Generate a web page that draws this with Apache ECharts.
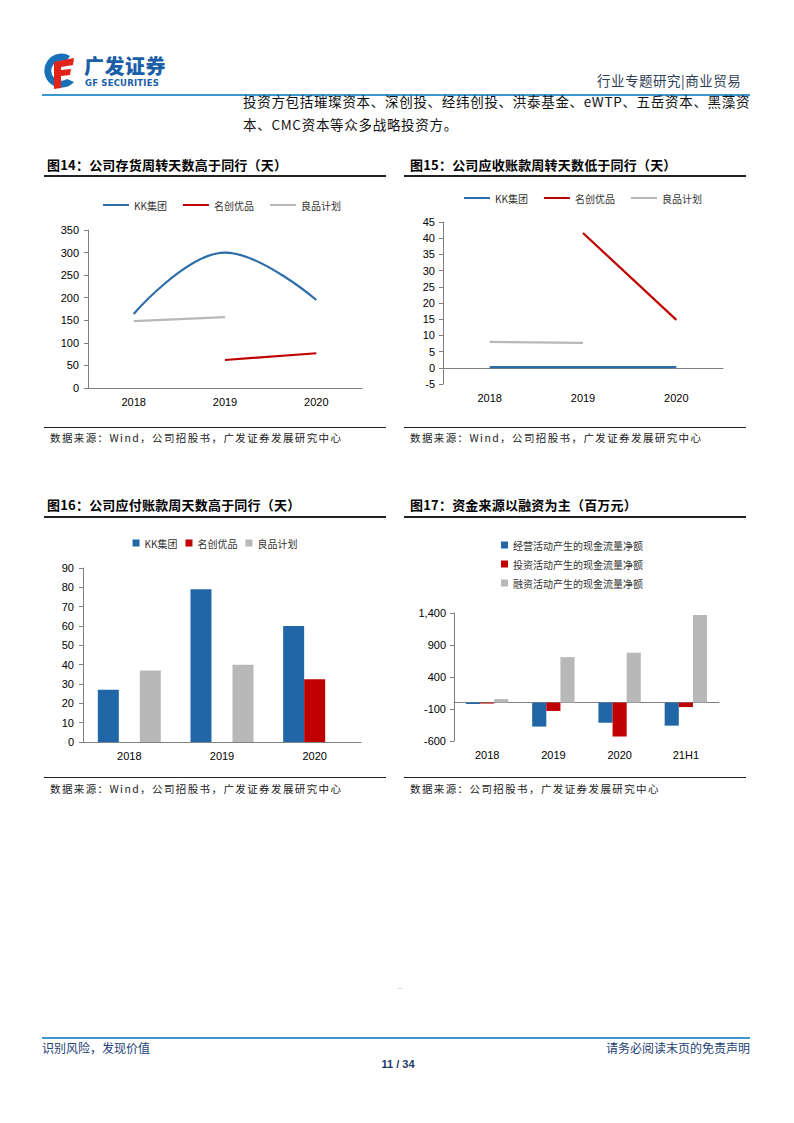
<!DOCTYPE html>
<html><head><meta charset="utf-8">
<script src="https://cdn.jsdelivr.net/npm/echarts@6/dist/echarts.min.js"></script>
<style>
html,body{margin:0;padding:0;background:#fff;}
body{width:794px;height:1123px;position:relative;overflow:hidden;font-family:"Noto Sans CJK SC","Noto Sans",sans-serif;}
.abs{position:absolute;white-space:nowrap;}
.title{font-size:13px;font-weight:bold;color:#000;letter-spacing:0.2px;line-height:16px;}
.rule{position:absolute;height:1.5px;background:#222;}
.src{font-size:10.5px;color:#222;letter-spacing:1.4px;}
.chart{position:absolute;}
</style></head>
<body>
<!-- header -->
<svg class="abs" style="left:40px;top:52px" width="42" height="40" viewBox="0 0 42 40">
  <path d="M30 4 A17 17 0 1 0 34 30 L27 27 A10 10 0 1 1 26 10 Z" fill="#1a6fb9"/>
  <path d="M14 10 L34 6 L33 13 L21 15 L21 18 L31 17 L30 23 L21 24 L21 36 L14 37 Z" fill="#e2231a"/>
</svg>
<div class="abs" style="left:84px;top:56px;font-size:20px;line-height:20px;height:20px;font-weight:900;color:#1a5ea8;letter-spacing:0.5px;">广发证券</div>
<div class="abs" style="left:85px;top:79px;font-size:8.5px;line-height:9px;height:9px;font-weight:bold;color:#1a5ea8;font-family:'DejaVu Sans';letter-spacing:0.2px;">GF SECURITIES</div>
<div class="abs" style="left:597px;top:70px;font-size:13.5px;color:#2f4058;letter-spacing:0.5px;">行业专题研究|商业贸易</div>
<div class="abs" style="left:42px;top:94px;width:708px;height:1.5px;background:#3b97cf;"></div>
<div class="abs" style="left:243px;top:91px;font-size:13.5px;color:#111;letter-spacing:0.7px;">投资方包括璀璨资本、深创投、经纬创投、洪泰基金、eWTP、五岳资本、黑藻资</div>
<div class="abs" style="left:243px;top:114px;font-size:13.5px;color:#111;letter-spacing:0.7px;">本、CMC资本等众多战略投资方。</div>

<!-- titles -->
<div class="abs title" style="left:47px;top:157px;">图14：公司存货周转天数高于同行（天）</div>
<div class="rule" style="left:44px;top:175px;width:342px;"></div>
<div class="abs title" style="left:410px;top:157px;">图15：公司应收账款周转天数低于同行（天）</div>
<div class="rule" style="left:404px;top:175px;width:342px;"></div>

<div id="c14" class="chart" style="left:44px;top:185px;width:342px;height:235px;"></div>
<div id="c15" class="chart" style="left:404px;top:185px;width:342px;height:235px;"></div>

<div class="rule" style="left:44px;top:427px;width:342px;height:1px;"></div>
<div class="abs src" style="left:50px;top:430px;">数据来源：Wind，公司招股书，广发证券发展研究中心</div>
<div class="rule" style="left:404px;top:427px;width:342px;height:1px;"></div>
<div class="abs src" style="left:410px;top:430px;">数据来源：Wind，公司招股书，广发证券发展研究中心</div>

<div class="abs title" style="left:47px;top:497px;">图16：公司应付账款周天数高于同行（天）</div>
<div class="rule" style="left:44px;top:516px;width:342px;"></div>
<div class="abs title" style="left:410px;top:497px;">图17：资金来源以融资为主（百万元）</div>
<div class="rule" style="left:404px;top:516px;width:342px;"></div>

<div id="c16" class="chart" style="left:44px;top:525px;width:342px;height:250px;"></div>
<div id="c17" class="chart" style="left:404px;top:525px;width:342px;height:250px;"></div>

<div class="rule" style="left:44px;top:777px;width:342px;height:1px;"></div>
<div class="abs src" style="left:50px;top:781px;">数据来源：Wind，公司招股书，广发证券发展研究中心</div>
<div class="rule" style="left:404px;top:777px;width:342px;height:1px;"></div>
<div class="abs src" style="left:410px;top:781px;">数据来源：公司招股书，广发证券发展研究中心</div>

<!-- footer -->
<div class="abs" style="left:398px;top:983px;font-size:6px;color:#999;">--</div>
<div class="abs" style="left:42px;top:1037px;width:708px;height:1.5px;background:#3b97cf;"></div>
<div class="abs" style="left:42px;top:1039px;font-size:12px;color:#1d4274;">识别风险，发现价值</div>
<div class="abs" style="right:44px;top:1039px;font-size:12px;color:#1d4274;">请务必阅读末页的免责声明</div>
<div class="abs" style="left:378px;top:1058px;width:40px;text-align:center;font-size:11px;font-weight:bold;color:#1d3a66;font-family:'Liberation Sans';">11 / 34</div>

<script>
// ---- data ----
const years3 = ['2018', '2019', '2020'];
const seriesNames = ['KK集团', '名创优品', '良品计划'];
// 图14 存货周转天数
const invKK = [164, 300, 195];
const invMinis = [null, 62, 77];
const invMuji = [148, 157, null];
// 图15 应收账款周转天数
const arKK = [0.2, 0.2, 0.2];
const arMinis = [null, 41.6, 14.8];
const arMuji = [8.0, 7.7, null];
// 图16 应付账款周转天数
const apKK = [27, 79, 60];
const apMinis = [null, null, 32.5];
const apMuji = [37, 40, null];
// 图17 现金流（百万元）
const cfCats = ['2018', '2019', '2020', '21H1'];
const cfNames = ['经营活动产生的现金流量净额', '投资活动产生的现金流量净额', '融资活动产生的现金流量净额'];
const cfOp = [-20, -375, -315, -360];
const cfInv = [-15, -130, -530, -70];
const cfFin = [55, 710, 780, 1370];

const BLUE = '#2167a8', RED = '#c00000', GRAY = '#b8b8b8';
const AX = '#808080';
const FONT = 'Liberation Sans';
const legendText = {fontSize: 10, color: '#333', fontFamily: 'Noto Sans CJK SC'};
const axLabel = {color: '#000', fontSize: 11, fontFamily: FONT};

function init(id){ return echarts.init(document.getElementById(id), null, {renderer: 'svg'}); }

// chart 14
init('c14').setOption({
  animation: false,
  legend: {top: 10, left: 54, itemWidth: 26, itemHeight: 2, itemGap: 16, textStyle: legendText, icon: 'rect'},
  grid: {left: 44, right: 24, top: 45, bottom: 32},
  xAxis: {type: 'category', data: years3, boundaryGap: true,
    axisLine: {lineStyle: {color: AX}}, axisTick: {length: 4, lineStyle: {color: AX}},
    axisLabel: Object.assign({margin: 8}, axLabel)},
  yAxis: {type: 'value', min: 0, max: 350, interval: 50, splitLine: {show: false},
    axisLine: {show: true, lineStyle: {color: AX}}, axisTick: {show: true, length: 4, lineStyle: {color: AX}},
    axisLabel: Object.assign({margin: 9}, axLabel)},
  series: [
    {name: seriesNames[0], type: 'line', data: invKK, smooth: 0.4, symbol: 'none', lineStyle: {width: 2.2, color: '#2e6ea8'}, itemStyle: {color: '#2e6ea8'}},
    {name: seriesNames[1], type: 'line', data: invMinis, symbol: 'none', lineStyle: {width: 2.2, color: RED}, itemStyle: {color: RED}},
    {name: seriesNames[2], type: 'line', data: invMuji, symbol: 'none', lineStyle: {width: 2.2, color: GRAY}, itemStyle: {color: GRAY}}
  ]
});

// chart 15
init('c15').setOption({
  animation: false,
  legend: {top: 3, left: 55, itemWidth: 26, itemHeight: 2, itemGap: 16, textStyle: legendText, icon: 'rect'},
  grid: {left: 39, right: 23, top: 37, bottom: 36},
  xAxis: [
    {type: 'category', data: years3, boundaryGap: true, axisLine: {onZero: true, lineStyle: {color: AX}},
      axisTick: {length: 4, lineStyle: {color: AX}}, axisLabel: {show: false}},
    {type: 'category', data: years3, position: 'bottom', axisLine: {show: false, onZero: false}, axisTick: {show: false},
      axisLabel: Object.assign({margin: 8}, axLabel)}
  ],
  yAxis: {type: 'value', min: -5, max: 45, interval: 5, splitLine: {show: false},
    axisLine: {show: true, lineStyle: {color: AX}}, axisTick: {show: true, length: 4, lineStyle: {color: AX}},
    axisLabel: Object.assign({margin: 8}, axLabel)},
  series: [
    {name: seriesNames[0], type: 'line', data: arKK, symbol: 'none', lineStyle: {width: 2.2, color: '#2e6ea8'}, itemStyle: {color: '#2e6ea8'}},
    {name: seriesNames[1], type: 'line', data: arMinis, symbol: 'none', lineStyle: {width: 2.2, color: RED}, itemStyle: {color: RED}},
    {name: seriesNames[2], type: 'line', data: arMuji, symbol: 'none', lineStyle: {width: 2.2, color: GRAY}, itemStyle: {color: GRAY}}
  ]
});

// chart 16
init('c16').setOption({
  animation: false,
  legend: {top: 8, left: 'center', itemWidth: 7, itemHeight: 7, itemGap: 8, textStyle: legendText, icon: 'rect'},
  grid: {left: 39, right: 25, top: 43, bottom: 33},
  xAxis: {type: 'category', data: years3, axisLine: {lineStyle: {color: AX}}, axisTick: {length: 4, lineStyle: {color: AX}},
    axisLabel: Object.assign({margin: 8}, axLabel)},
  yAxis: {type: 'value', min: 0, max: 90, interval: 10, splitLine: {show: false},
    axisLine: {show: true, lineStyle: {color: AX}}, axisTick: {show: true, length: 4, lineStyle: {color: AX}},
    axisLabel: Object.assign({margin: 9}, axLabel)},
  series: [
    {name: seriesNames[0], type: 'bar', data: apKK, barGap: 0, barCategoryGap: '32%', itemStyle: {color: BLUE}},
    {name: seriesNames[1], type: 'bar', data: apMinis, itemStyle: {color: RED}},
    {name: seriesNames[2], type: 'bar', data: apMuji, itemStyle: {color: GRAY}}
  ]
});

// chart 17
init('c17').setOption({
  animation: false,
  legend: {orient: 'vertical', top: 10, left: 92, itemWidth: 7, itemHeight: 7, itemGap: 9, textStyle: legendText, icon: 'rect'},
  grid: {left: 50, right: 27, top: 88, bottom: 34},
  xAxis: [
    {type: 'category', data: cfCats, axisLine: {onZero: true, lineStyle: {color: AX}},
      axisTick: {length: 4, lineStyle: {color: AX}}, axisLabel: {show: false}},
    {type: 'category', data: cfCats, position: 'bottom', axisLine: {show: false, onZero: false}, axisTick: {show: false},
      axisLabel: Object.assign({margin: 8}, axLabel)}
  ],
  yAxis: {type: 'value', min: -600, max: 1400, interval: 500, splitLine: {show: false},
    axisLine: {show: true, lineStyle: {color: AX}}, axisTick: {show: true, length: 4, lineStyle: {color: AX}},
    axisLabel: Object.assign({margin: 8, formatter: v => v.toLocaleString('en-US')}, axLabel)},
  series: [
    {name: cfNames[0], type: 'bar', data: cfOp, barGap: 0, barCategoryGap: '36%', itemStyle: {color: BLUE}},
    {name: cfNames[1], type: 'bar', data: cfInv, itemStyle: {color: RED}},
    {name: cfNames[2], type: 'bar', data: cfFin, itemStyle: {color: GRAY}}
  ]
});
</script>
</body></html>
